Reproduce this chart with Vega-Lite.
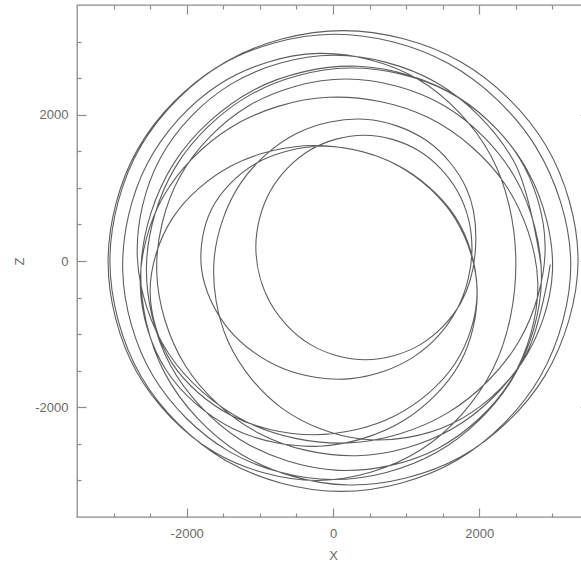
{
  "$schema": "https://vega.github.io/schema/vega-lite/v6.json",
  "width": 512,
  "height": 512,
  "autosize": {"type": "none"},
  "padding": {"left": 77, "top": 5, "right": 0, "bottom": 54},
  "background": "white",
  "config": {
    "view": {"stroke": "#8c8c8c", "strokeWidth": 1.3},
    "font": "Liberation Sans",
    "axis": {"domain": false, "grid": false, "tickColor": "#8c8c8c", "tickWidth": 1.2, "labelColor": "#6a6a6a", "labelFontSize": 13, "titleColor": "#6a6a6a", "titleFontSize": 13, "titleFontWeight": "normal", "labelFont": "Liberation Sans", "titleFont": "Liberation Sans"}
  },
  "data": {"values": [
    {"i":0,"x":2970,"z":-50},{"i":1,"x":2614,"z":-1327},{"i":2,"x":1650,"z":-2284},{"i":3,"x":325,"z":-2662},{"i":4,"x":-1015,"z":-2354},{"i":5,"x":-2016,"z":-1435},{"i":6,"x":-2410,"z":-150},{"i":7,"x":-2092,"z":1156},{"i":8,"x":-1145,"z":2126},{"i":9,"x":175,"z":2488},{"i":10,"x":1510,"z":2129},{"i":11,"x":2494,"z":1131},
    {"i":12,"x":2850,"z":-250},{"i":13,"x":2452,"z":-1612},{"i":14,"x":1413,"z":-2619},{"i":15,"x":0,"z":-2988},{"i":16,"x":-1417,"z":-2606},{"i":17,"x":-2466,"z":-1563},{"i":18,"x":-2875,"z":-125},{"i":19,"x":-2540,"z":1329},{"i":20,"x":-1558,"z":2414},{"i":21,"x":-200,"z":2838},{"i":22,"x":1163,"z":2484},{"i":23,"x":2155,"z":1446},
    {"i":24,"x":2500,"z":0},{"i":25,"x":2183,"z":-1483},{"i":26,"x":1196,"z":-2584},{"i":27,"x":-200,"z":-3000},{"i":28,"x":-1625,"z":-2612},{"i":29,"x":-2684,"z":-1517},{"i":30,"x":-3075,"z":0},{"i":31,"x":-2668,"z":1533},{"i":32,"x":-1550,"z":2670},{"i":33,"x":0,"z":3100},{"i":34,"x":1579,"z":2699},{"i":35,"x":2769,"z":1567},
    {"i":36,"x":3250,"z":0},{"i":37,"x":2836,"z":-1575},{"i":38,"x":1688,"z":-2728},{"i":39,"x":112,"z":-3150},{"i":40,"x":-1467,"z":-2728},{"i":41,"x":-2625,"z":-1575},{"i":42,"x":-3050,"z":0},{"i":43,"x":-2624,"z":1575},{"i":44,"x":-1458,"z":2728},{"i":45,"x":137,"z":3150},{"i":46,"x":1738,"z":2728},{"i":47,"x":2913,"z":1575},
    {"i":48,"x":3350,"z":0},{"i":49,"x":2899,"z":-1567},{"i":50,"x":1742,"z":-2681},{"i":51,"x":212,"z":-3062},{"i":52,"x":-1267,"z":-2634},{"i":53,"x":-2300,"z":-1533},{"i":54,"x":-2625,"z":-75},{"i":55,"x":-2172,"z":1342},{"i":56,"x":-1083,"z":2339},{"i":57,"x":337,"z":2662},{"i":58,"x":1708,"z":2242},{"i":59,"x":2674,"z":1208},
    {"i":60,"x":3000,"z":-150},{"i":61,"x":2576,"z":-1400},{"i":62,"x":1617,"z":-2228},{"i":63,"x":412,"z":-2438},{"i":64,"x":-700,"z":-2011},{"i":65,"x":-1434,"z":-1100},{"i":66,"x":-1625,"z":25},{"i":67,"x":-1267,"z":1058},{"i":68,"x":-500,"z":1743},{"i":69,"x":437,"z":1938},{"i":70,"x":1283,"z":1643},{"i":71,"x":1824,"z":992},
    {"i":72,"x":1950,"z":200},{"i":73,"x":1745,"z":-576},{"i":74,"x":1193,"z":-1143},{"i":75,"x":442,"z":-1350},{"i":76,"x":-307,"z":-1143},{"i":77,"x":-854,"z":-579},{"i":78,"x":-1055,"z":190},{"i":79,"x":-856,"z":958},{"i":80,"x":-313,"z":1517},{"i":81,"x":427,"z":1720},{"i":82,"x":1167,"z":1511},{"i":83,"x":1706,"z":948},
    {"i":84,"x":1900,"z":180},{"i":85,"x":1699,"z":-653},{"i":86,"x":1108,"z":-1307},{"i":87,"x":245,"z":-1608},{"i":88,"x":-682,"z":-1470},{"i":89,"x":-1431,"z":-927},{"i":90,"x":-1795,"z":-125},{"i":91,"x":-1659,"z":712},{"i":92,"x":-1043,"z":1341},{"i":93,"x":-105,"z":1568},{"i":94,"x":898,"z":1300},{"i":95,"x":1671,"z":578},
    {"i":96,"x":1970,"z":-430},{"i":97,"x":1669,"z":-1402},{"i":98,"x":848,"z":-2115},{"i":99,"x":-272,"z":-2375},{"i":100,"x":-1390,"z":-2111},{"i":101,"x":-2205,"z":-1390},{"i":102,"x":-2500,"z":-405},{"i":103,"x":-2196,"z":583},{"i":104,"x":-1375,"z":1309},{"i":105,"x":-257,"z":1580},{"i":106,"x":858,"z":1322},{"i":107,"x":1672,"z":605},
    {"i":108,"x":1970,"z":-380},{"i":109,"x":1735,"z":-1395},{"i":110,"x":950,"z":-2192},{"i":111,"x":-187,"z":-2532},{"i":112,"x":-1373,"z":-2290},{"i":113,"x":-2278,"z":-1497},{"i":114,"x":-2635,"z":-340},{"i":115,"x":-2320,"z":881},{"i":116,"x":-1387,"z":1833},{"i":117,"x":-62,"z":2238},{"i":118,"x":1310,"z":1957},{"i":119,"x":2362,"z":1036},
    {"i":120,"x":2800,"z":-300},{"i":121,"x":2435,"z":-1623},{"i":122,"x":1433,"z":-2562},{"i":123,"x":75,"z":-2862},{"i":124,"x":-1267,"z":-2443},{"i":125,"x":-2228,"z":-1415},{"i":126,"x":-2550,"z":-50},{"i":127,"x":-2149,"z":1294},{"i":128,"x":-1133,"z":2271},{"i":129,"x":225,"z":2638},{"i":130,"x":1567,"z":2318},{"i":131,"x":2541,"z":1419},
    {"i":132,"x":2900,"z":200},{"i":133,"x":2544,"z":-1094},{"i":134,"x":1562,"z":-2080},{"i":135,"x":200,"z":-2488},{"i":136,"x":-1192,"z":-2195},{"i":137,"x":-2245,"z":-1269},{"i":138,"x":-2675,"z":50},{"i":139,"x":-2362,"z":1406},{"i":140,"x":-1383,"z":2425},{"i":141,"x":0,"z":2812},{"i":142,"x":1412,"z":2440},{"i":143,"x":2463,"z":1381},
    {"i":144,"x":2850,"z":-100}
  ]},
  "layer": [
    {
      "mark": {"type": "line", "interpolate": "catmull-rom", "color": "#5e5e5e", "strokeWidth": 1.1},
      "encoding": {
        "x": {"field": "x", "type": "quantitative", "scale": {"domain": [-3500, 3500], "nice": false, "zero": false},
          "axis": {"orient": "bottom", "title": "X", "values": [-2000, 0, 2000], "ticks": false, "tickSize": 0,
            "labelExpr": "'' + datum.value", "labelPadding": 10, "titlePadding": 9}},
        "y": {"field": "z", "type": "quantitative", "scale": {"domain": [-3500, 3500], "nice": false, "zero": false},
          "axis": {"orient": "left", "title": "Z", "values": [-2000, 0, 2000], "ticks": false, "tickSize": 0,
            "labelExpr": "'' + datum.value", "labelPadding": 9, "titlePadding": 8}},
        "order": {"field": "i", "type": "quantitative"}
      }
    },
    {
      "mark": {"type": "line", "opacity": 0},
      "encoding": {
        "x": {"field": "x", "type": "quantitative",
          "axis": {"orient": "top", "offset": -512, "title": null, "labels": false, "values": [-3000,-2500,-2000,-1500,-1000,-500,0,500,1000,1500,2000,2500,3000],
            "tickSize": {"condition": {"test": "datum.value % 2000 === 0", "value": 9}, "value": 4}}},
        "y": {"field": "z", "type": "quantitative",
          "axis": {"orient": "right", "offset": -512, "title": null, "labels": false, "values": [-3000,-2500,-2000,-1500,-1000,-500,0,500,1000,1500,2000,2500,3000],
            "tickSize": {"condition": {"test": "datum.value % 2000 === 0", "value": 9}, "value": 4}}},
        "order": {"field": "i", "type": "quantitative"}
      }
    },
    {
      "mark": {"type": "line", "opacity": 0},
      "encoding": {
        "x": {"field": "x", "type": "quantitative",
          "axis": {"orient": "bottom", "offset": -512, "title": null, "labels": false, "values": [-3000,-2500,-2000,-1500,-1000,-500,0,500,1000,1500,2000,2500,3000],
            "tickSize": {"condition": {"test": "datum.value % 2000 === 0", "value": 9}, "value": 4}}},
        "y": {"field": "z", "type": "quantitative",
          "axis": {"orient": "left", "offset": -512, "title": null, "labels": false, "values": [-3000,-2500,-2000,-1500,-1000,-500,0,500,1000,1500,2000,2500,3000],
            "tickSize": {"condition": {"test": "datum.value % 2000 === 0", "value": 9}, "value": 4}}},
        "order": {"field": "i", "type": "quantitative"}
      }
    }
  ],
  "resolve": {"axis": {"x": "independent", "y": "independent"}}
}
